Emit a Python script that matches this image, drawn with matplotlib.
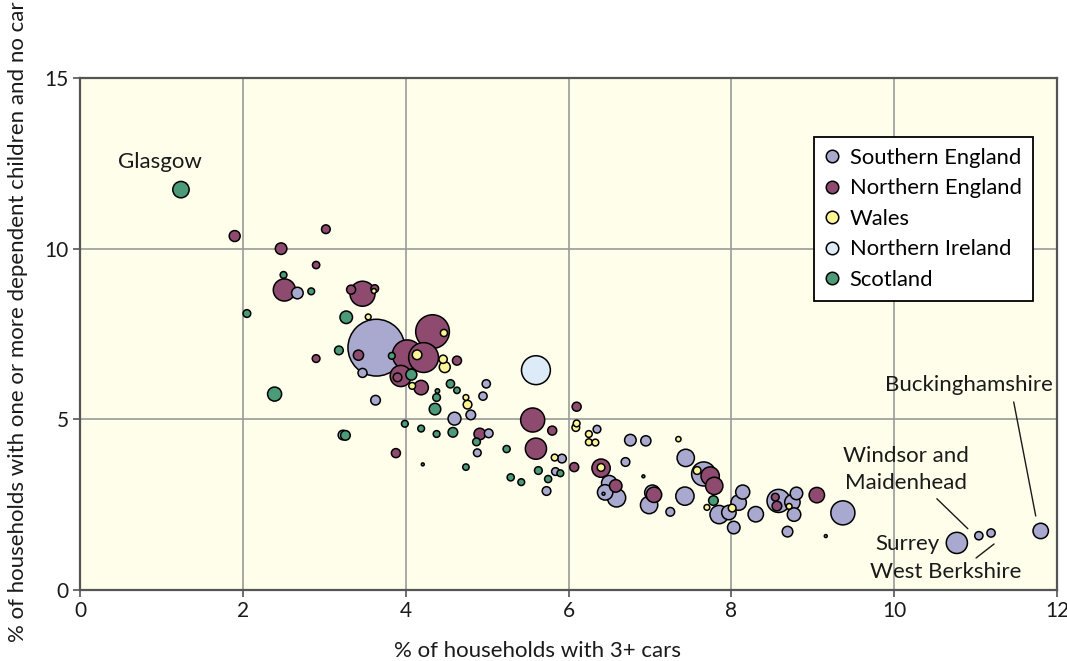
import matplotlib
matplotlib.use("Agg")
import matplotlib.pyplot as plt
from matplotlib.lines import Line2D
from matplotlib.text import OffsetFrom

plt.rcParams['font.family'] = ['Lato', 'DejaVu Sans']

# ---------------- data ----------------
# Southern England
se_x = [2.67, 3.64, 3.47, 3.63, 3.23, 4.80, 4.95, 4.99, 4.60, 5.02, 4.88, 5.84, 5.73, 5.92,
        6.35, 6.76, 6.95, 7.44, 6.70, 6.50, 6.45, 6.43, 6.59, 7.03, 6.99, 7.25, 7.43, 7.66,
        7.85, 7.97, 8.03, 8.09, 8.14, 8.30, 8.58, 8.75, 8.77, 8.80, 8.69, 9.37, 9.16,
        10.77, 11.04, 11.19, 11.80]
se_y = [8.70, 7.10, 6.36, 5.56, 4.54, 5.13, 5.68, 6.04, 5.02, 4.59, 4.02, 3.47, 2.90, 3.85,
        4.71, 4.39, 4.37, 3.87, 3.75, 3.13, 2.86, 2.82, 2.70, 2.85, 2.49, 2.29, 2.75, 3.40,
        2.21, 2.27, 1.83, 2.56, 2.87, 2.22, 2.61, 2.57, 2.21, 2.83, 1.71, 2.26, 1.58,
        1.38, 1.59, 1.67, 1.73]
se_hh = [108, 2611, 66, 75, 75, 75, 55, 55, 135, 61, 48, 48, 61, 61,
         48, 108, 84, 243, 61, 192, 192, 7, 271, 192, 243, 61, 271, 469,
         271, 169, 127, 192, 160, 192, 432, 192, 147, 127, 91, 469, 7,
         363, 55, 55, 192]

# Northern England
ne_x = [1.90, 3.02, 2.47, 2.90, 2.51, 3.47, 3.33, 3.62, 2.90, 3.42, 4.33, 4.02, 4.22, 3.94,
        3.90, 4.19, 4.63, 4.91, 3.88, 5.56, 5.60, 5.80, 6.07, 6.10, 6.40, 6.58, 7.05, 7.74,
        7.79, 8.54, 8.56, 9.05]
ne_y = [10.37, 10.57, 10.00, 9.52, 8.79, 8.68, 8.80, 8.83, 6.78, 6.88, 7.57, 6.89, 6.81, 6.27,
        6.23, 5.93, 6.72, 4.57, 4.01, 4.98, 4.14, 4.67, 3.60, 5.37, 3.57, 3.05, 2.79, 3.34,
        3.05, 2.72, 2.46, 2.78]
ne_hh = [97, 61, 108, 43, 397, 507, 66, 48, 48, 84, 919, 721, 721, 363,
         61, 169, 66, 108, 66, 469, 363, 66, 66, 66, 271, 127, 192, 271,
         243, 48, 75, 192]

# Wales
wa_x = [3.61, 3.54, 4.47, 4.14, 4.46, 4.48, 4.08, 4.74, 4.76, 5.83, 6.10, 6.09, 6.25, 6.25,
        6.33, 7.35, 6.40, 7.58, 7.70, 8.01, 8.71]
wa_y = [8.76, 8.00, 7.53, 6.89, 6.76, 6.53, 5.98, 5.64, 5.43, 3.88, 4.88, 4.76, 4.57, 4.33,
        4.32, 4.42, 3.59, 3.50, 2.42, 2.40, 2.45]
wa_hh = [19, 27, 41, 75, 55, 97, 37, 27, 61, 37, 37, 48, 37, 37,
         37, 22, 48, 48, 27, 48, 27]

# Northern Ireland
ni_x = [5.60]
ni_y = [6.44]
ni_hh = [675]

# Scotland
sc_x = [1.24, 2.50, 2.84, 2.05, 3.27, 3.18, 2.39, 3.83, 3.26, 4.07, 4.55, 4.63, 4.39, 4.38,
        4.36, 3.99, 4.19, 4.38, 4.58, 4.87, 4.21, 4.74, 5.24, 5.63, 5.29, 5.42, 5.75, 5.90,
        6.92, 7.78]
sc_y = [11.73, 9.23, 8.75, 8.10, 7.99, 7.02, 5.74, 6.86, 4.53, 6.31, 6.04, 5.85, 5.83, 5.64,
        5.30, 4.87, 4.73, 4.57, 4.62, 4.34, 3.68, 3.60, 4.13, 3.50, 3.30, 3.16, 3.25, 3.42,
        3.33, 2.62]
sc_hh = [217, 37, 37, 48, 127, 61, 160, 37, 75, 97, 55, 33, 16, 48,
         108, 37, 37, 37, 75, 48, 7, 33, 41, 48, 41, 37, 41, 37,
         7, 75]

regions = ["Southern England", "Northern England", "Wales", "Northern Ireland", "Scotland"]
region_x = [se_x, ne_x, wa_x, ni_x, sc_x]
region_y = [se_y, ne_y, wa_y, ni_y, sc_y]
region_hh = [se_hh, ne_hh, wa_hh, ni_hh, sc_hh]
colors = ["#a9a8cf", "#8e4b6f", "#fdf495", "#dcebf7", "#4b9b79"]

# labelled authorities: (name, index into Southern England / Scotland)
labels_se = {"Buckinghamshire": 44, "Windsor and\nMaidenhead": 42, "Surrey": 41, "West Berkshire": 43}
label_sc = {"Glasgow": 0}

x_ticks = [0, 2, 4, 6, 8, 10, 12]
y_ticks = [0, 5, 10, 15]

# ---------------- plot ----------------
fig = plt.figure(figsize=(10.67, 6.61), dpi=100)
ax = fig.add_axes([80 / 1067, 71 / 661, 977 / 1067, 512 / 661])
ax.set_facecolor("#fffeeb")

pts = []
for name, xs, ys, hh, c in zip(regions, region_x, region_y, region_hh, colors):
    for x, y, h in zip(xs, ys, hh):
        pts.append((h, x, y, c))
pts.sort(key=lambda p: -p[0])
ax.scatter([p[1] for p in pts], [p[2] for p in pts], s=[p[0] * 0.64 for p in pts],
           c=[p[3] for p in pts], edgecolors="black", linewidths=1.1, zorder=3)

ax.set_xlim(0, 12)
ax.set_ylim(0, 15)
ax.set_xticks(x_ticks)
ax.set_yticks(y_ticks)
ax.set_xticklabels([str(t) for t in x_ticks])
ax.set_yticklabels([str(t) for t in y_ticks])
ax.grid(True, color="#9a9a9a", linewidth=1.2, zorder=0)
ax.set_axisbelow(True)
for sp in ax.spines.values():
    sp.set_color("#555555")
    sp.set_linewidth(1.6)
ax.tick_params(direction="out", length=5, width=1.2, color="#555555", labelsize=15,
               labelcolor="#1a1a1a", pad=3)

fig.text(538 / 1067, (661 - 651) / 661, "% of households with 3+ cars", ha="center", va="center",
         fontsize=16, color="#1a1a1a")
fig.text(18 / 1067, (661 - 322) / 661,
         "% of households with one or more dependent children and no car",
         ha="center", va="center", rotation=90, fontsize=16, color="#1a1a1a")

# legend
handles = [Line2D([], [], linestyle="none", marker="o", markersize=9, markerfacecolor=c,
                  markeredgecolor="black", markeredgewidth=1.1) for c in colors]
leg = ax.legend(handles, regions, loc="upper right", bbox_to_anchor=(0.975, 0.885),
                borderaxespad=0, fancybox=False, framealpha=1, edgecolor="black",
                fontsize=15.8, handlelength=0.7, handletextpad=0.45, labelspacing=0.48,
                borderpad=0.5)
leg.get_frame().set_linewidth(1.3)
leg.set_zorder(5)

# annotations
def label(x, y, text, dx, dy):
    ax.annotate(text, xy=(x, y), xytext=(dx, dy), textcoords="offset pixels",
                ha="center", va="center", fontsize=16, color="#1a1a1a", zorder=6,
                linespacing=1.45)

def leader(x, y, p0, p1):
    ref = OffsetFrom(ax.transData, (x, y), unit="pixels")
    ax.annotate("", xy=p1, xycoords=ref, xytext=p0, textcoords=ref,
                arrowprops=dict(arrowstyle="-", color="#1a1a1a", lw=1.0, shrinkA=0, shrinkB=0),
                zorder=6)

gx, gy = sc_x[label_sc["Glasgow"]], sc_y[label_sc["Glasgow"]]
label(gx, gy, "Glasgow", -21, 28)

i = labels_se["Buckinghamshire"]
label(se_x[i], se_y[i], "Buckinghamshire", -72, 146)
leader(se_x[i], se_y[i], (-27, 129), (-5, 15))

i = labels_se["Windsor and\nMaidenhead"]
label(se_x[i], se_y[i], "Windsor and\nMaidenhead", -73, 66)
leader(se_x[i], se_y[i], (-42, 37), (-11, 7))

i = labels_se["Surrey"]
label(se_x[i], se_y[i], "Surrey", -49, -1)

i = labels_se["West Berkshire"]
label(se_x[i], se_y[i], "West Berkshire", -45, -39)
leader(se_x[i], se_y[i], (-15, -25), (3, -11))

fig.savefig("out.png", dpi=100)
